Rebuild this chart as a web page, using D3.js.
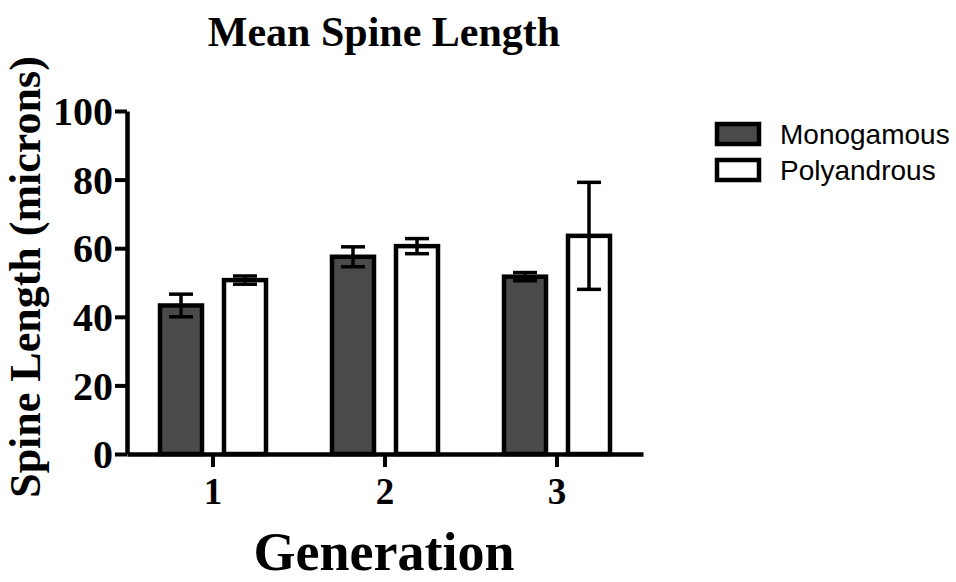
<!DOCTYPE html>
<html>
<head>
<meta charset="utf-8">
<script src="https://cdn.jsdelivr.net/npm/d3@7"></script>
<style>
  body { margin: 0; background: #fff; }
  svg { display: block; }
</style>
</head>
<body>
<div id="chart"></div>
<script>
// data
const generations = ['1', '2', '3'];
const series_names = ['Monogamous', 'Polyandrous'];
const series_fill = ['#4a4a4a', '#ffffff'];
const mono_mean = [43.3, 57.5, 51.7];
const mono_err = [3.3, 2.9, 1.2];
const poly_mean = [50.7, 60.6, 63.6];
const poly_err = [1.2, 2.2, 15.6];
const y_ticks = [0, 20, 40, 60, 80, 100];

const width = 956, height = 582;
const serif = '"Liberation Serif", "Times New Roman", serif';
const sans = '"Liberation Sans", Arial, sans-serif';

const svg = d3.select('#chart').append('svg')
  .attr('width', width)
  .attr('height', height);

const x = d3.scaleBand().domain(generations).range([127, 643]);
const y = d3.scaleLinear().domain([0, 100]).range([454, 111]);
const offsets = [-32, 32];
const bar_w = 42;

const rows = [];
generations.forEach((g, i) => {
  rows.push({g, s: 0, mean: mono_mean[i], err: mono_err[i]});
  rows.push({g, s: 1, mean: poly_mean[i], err: poly_err[i]});
});
const cx = d => x(d.g) + x.bandwidth() / 2 + offsets[d.s];

// bars
svg.append('g').selectAll('rect')
  .data(rows)
  .join('rect')
  .attr('x', d => cx(d) - bar_w / 2)
  .attr('y', d => y(d.mean))
  .attr('width', bar_w)
  .attr('height', d => y(0) - y(d.mean))
  .attr('fill', d => series_fill[d.s])
  .attr('stroke', '#000')
  .attr('stroke-width', 4.5);

// error bars
const eb = svg.append('g').attr('stroke', '#000').attr('stroke-width', 3.5);
eb.selectAll('line.v')
  .data(rows)
  .join('line')
  .attr('class', 'v')
  .attr('x1', cx).attr('x2', cx)
  .attr('y1', d => y(d.mean + d.err))
  .attr('y2', d => y(d.mean - d.err));
[1, -1].forEach(sign => {
  eb.selectAll('line.c' + (sign > 0 ? 'u' : 'd'))
    .data(rows)
    .join('line')
    .attr('class', 'c' + (sign > 0 ? 'u' : 'd'))
    .attr('x1', d => cx(d) - 12).attr('x2', d => cx(d) + 12)
    .attr('y1', d => y(d.mean + sign * d.err))
    .attr('y2', d => y(d.mean + sign * d.err));
});

// axes
const y_axis = svg.append('g')
  .attr('transform', 'translate(127,0)')
  .call(d3.axisLeft(y).tickValues(y_ticks).tickSize(12).tickSizeOuter(0).tickPadding(2));
const x_axis = svg.append('g')
  .attr('transform', `translate(0,${y(0)})`)
  .call(d3.axisBottom(x).tickSize(13).tickSizeOuter(0).tickPadding(11));

[y_axis, x_axis].forEach(a => {
  a.select('.domain').attr('stroke', '#000').attr('stroke-width', 4.5);
  a.selectAll('.tick line').attr('stroke', '#000').attr('stroke-width', 4);
  a.selectAll('text')
    .attr('fill', '#000')
    .style('font-family', serif)
    .style('font-weight', 'bold');
});
y_axis.selectAll('text').style('font-size', '40px').attr('dy', '0.34em');
x_axis.selectAll('text').style('font-size', '37px');

// titles
svg.append('text')
  .attr('x', 384).attr('y', 46)
  .attr('text-anchor', 'middle')
  .style('font-family', serif).style('font-weight', 'bold').style('font-size', '42px')
  .text('Mean Spine Length');

svg.append('text')
  .attr('x', 384).attr('y', 570)
  .attr('text-anchor', 'middle')
  .style('font-family', serif).style('font-weight', 'bold').style('font-size', '54px')
  .text('Generation');

svg.append('text')
  .attr('transform', 'translate(40,277) rotate(-90)')
  .attr('text-anchor', 'middle')
  .style('font-family', serif).style('font-weight', 'bold').style('font-size', '44px')
  .text('Spine Length (microns)');

// legend
const legend = svg.append('g').attr('transform', 'translate(717,124)');
const items = legend.selectAll('g')
  .data(series_names)
  .join('g')
  .attr('transform', (d, i) => `translate(0,${i * 36})`);
items.append('rect')
  .attr('width', 42).attr('height', 20)
  .attr('fill', (d, i) => series_fill[i])
  .attr('stroke', '#000').attr('stroke-width', 4.5);
items.append('text')
  .attr('x', 63).attr('y', 20)
  .style('font-family', sans).style('font-size', '28px')
  .text(d => d);
</script>
</body>
</html>
